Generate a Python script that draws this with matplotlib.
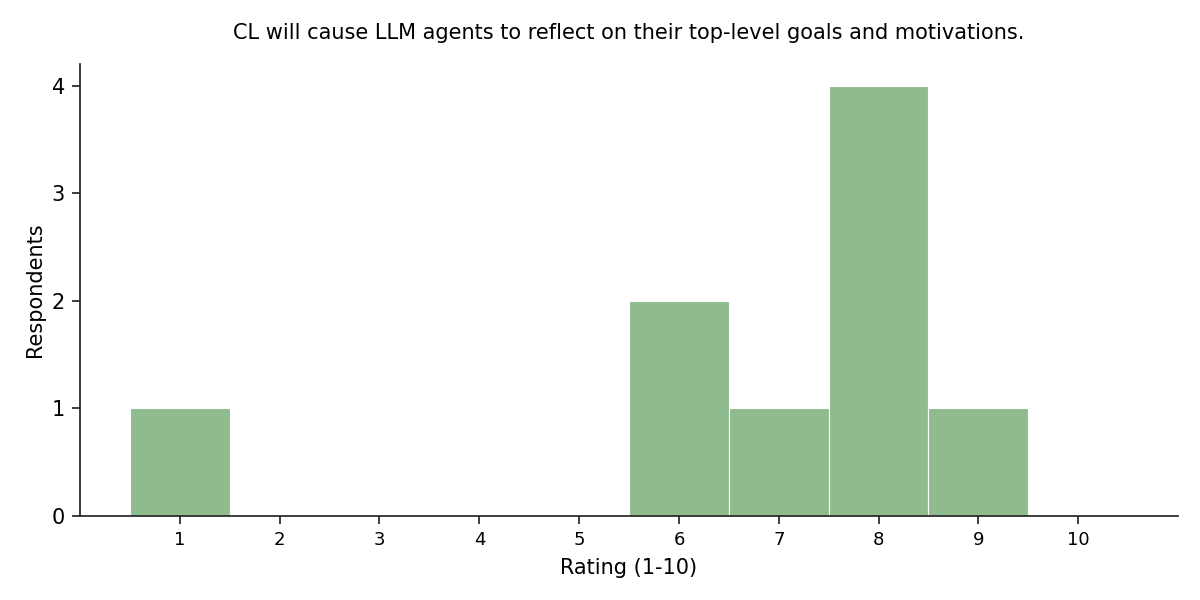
import matplotlib
matplotlib.use("Agg")
import matplotlib.pyplot as plt

ratings = [1, 2, 3, 4, 5, 6, 7, 8, 9, 10]
counts = [1, 0, 0, 0, 0, 2, 1, 4, 1, 0]
title = "CL will cause LLM agents to reflect on their top-level goals and motivations."

fig = plt.figure(figsize=(12, 6), dpi=100)
ax = fig.add_axes([0.0667, 0.14, 0.915, 0.7533])
ax.bar(ratings, counts, width=1.0, color="#8fbc8f", edgecolor="white", linewidth=0.8)
ax.set_xlim(0, 11)
ax.set_ylim(0, 4.2)
ax.set_xticks(ratings)
ax.set_xticklabels([str(r) for r in ratings])
ax.set_yticks([0, 1, 2, 3, 4])
ax.tick_params(axis="both", length=6, width=1.25, pad=5, colors="#262626", labelcolor="black")
ax.tick_params(axis="x", labelsize=13)
ax.tick_params(axis="y", labelsize=15)
for s in ["top", "right"]:
    ax.spines[s].set_visible(False)
for s in ["left", "bottom"]:
    ax.spines[s].set_color("#262626")
    ax.spines[s].set_linewidth(1.25)
ax.set_xlabel("Rating (1-10)", fontsize=15, labelpad=6)
ax.set_ylabel("Respondents", fontsize=15, labelpad=4.5)
ax.set_title(title, fontsize=15, pad=18)
fig.savefig("out.png", dpi=100)
